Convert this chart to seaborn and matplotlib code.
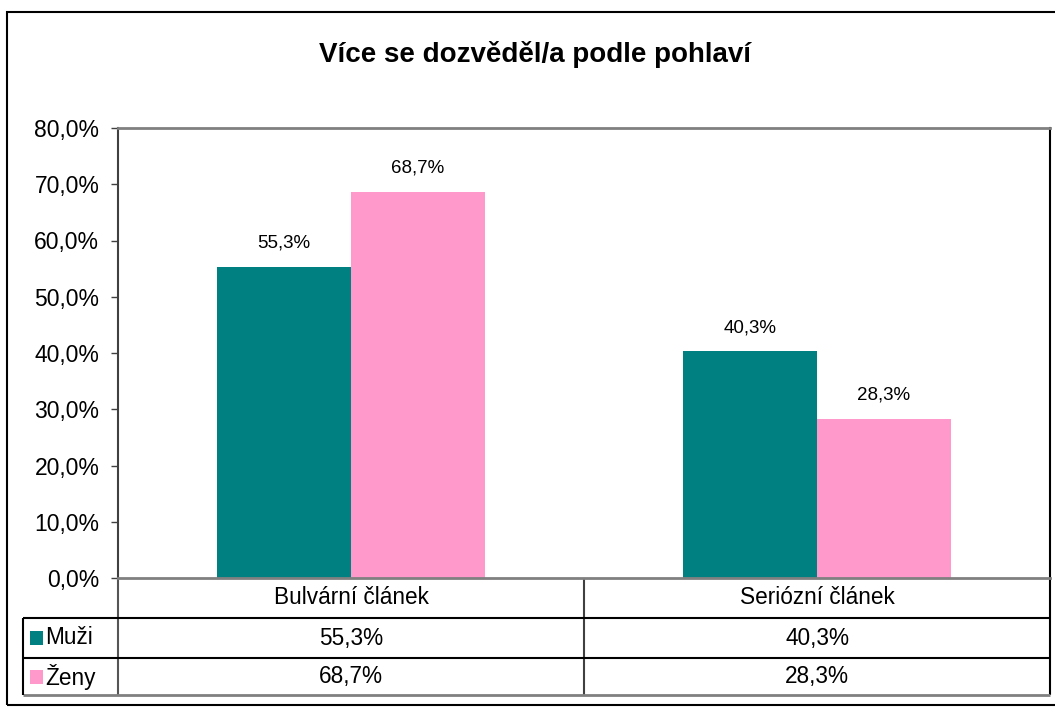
import pandas as pd
import matplotlib
matplotlib.use("Agg")
import matplotlib.pyplot as plt
import matplotlib.transforms as mtransforms
from matplotlib.patches import Rectangle
import seaborn as sns

# ---------------------------------------------------------
# Données
# ---------------------------------------------------------
categories = ["Bulvární článek", "Seriózní článek"]
series = ["Muži", "Ženy"]
muzi = [55.3, 40.3]
zeny = [68.7, 28.3]
yticks = [0, 10, 20, 30, 40, 50, 60, 70, 80]

teal = "#008080"
pink = "#FF99CC"


def cz(v, nd=1):
    # format tchèque : virgule décimale
    return f"{v:.{nd}f}%".replace(".", ",")


df = pd.DataFrame({
    "cat": categories * 2,
    "sex": [series[0]] * len(categories) + [series[1]] * len(categories),
    "val": muzi + zeny,
})

sns.set_style("white")
plt.rcParams["font.family"] = ["Liberation Sans", "DejaVu Sans"]
plt.rcParams["text.color"] = "black"
plt.rcParams["ytick.labelcolor"] = "black"

W, H = 1055, 707
fig = plt.figure(figsize=(W / 100, H / 100), dpi=100)
ax = fig.add_axes([118 / W, 1 - 578 / H, (1050 - 118) / W, (578 - 128) / H])

sns.barplot(data=df, x="cat", y="val", hue="sex", palette=[teal, pink],
            width=0.575, saturation=1, linewidth=0, legend=False, ax=ax)

ax.set_xlim(-0.5, 1.5)
ax.set_ylim(0, 80)
ax.set_yticks(yticks)
ax.set_yticklabels([cz(t) for t in yticks], fontsize=16.5, color="black")
ax.set_xticks([])
ax.set_xlabel("")
ax.set_ylabel("")
ax.tick_params(axis="y", direction="out", length=5, width=1, color="#404040",
               pad=8.5, left=True)

for side, col, lw in [("top", "#808080", 2), ("right", "black", 1.5),
                      ("left", "#404040", 1.5), ("bottom", "#808080", 2)]:
    ax.spines[side].set_visible(True)
    ax.spines[side].set_color(col)
    ax.spines[side].set_linewidth(lw)

# étiquettes des valeurs au-dessus des barres
for cont in ax.containers:
    ax.bar_label(cont, labels=[cz(b.get_height()) for b in cont],
                 padding=11, fontsize=13.5, color="black")

# ---------------------------------------------------------
# Table de données sous le graphique
# ---------------------------------------------------------
trans = mtransforms.blended_transform_factory(ax.transData, ax.transAxes)
row_h = 40 / 450
y1, y2, y3 = -row_h, -2 * row_h, -117 / 450
x_lab = -0.5 - 95 / 466


def line(xs, ys, col="black", lw=1.5):
    ax.plot(xs, ys, color=col, lw=lw, transform=trans, clip_on=False,
            solid_capstyle="butt")


line([-0.5, -0.5], [0, y3], "#555555")
line([0.5, 0.5], [0, y3], "#404040")
line([1.5, 1.5], [0, y3])
line([x_lab, 1.5], [y1, y1])
line([x_lab, 1.5], [y2, y2])
line([x_lab, 1.5], [y3, y3], "#808080", 2)
line([x_lab, x_lab], [y1, y3])

fs = 16.3
for i, c in enumerate(categories):
    ax.text(i, -row_h / 2, c, ha="center", va="center", fontsize=fs,
            transform=trans, clip_on=False)
    ax.text(i, (y1 + y2) / 2, cz(muzi[i]), ha="center", va="center",
            fontsize=fs, transform=trans, clip_on=False)
    ax.text(i, (y2 + y3) / 2, cz(zeny[i]), ha="center", va="center",
            fontsize=fs, transform=trans, clip_on=False)

for j, (name, col) in enumerate(zip(series, [teal, pink])):
    yc = (y1 + y2) / 2 if j == 0 else (y2 + y3) / 2
    ax.add_patch(Rectangle((x_lab + 7 / 466, yc - 7 / 450), 13 / 466, 14 / 450,
                           facecolor=col, edgecolor="none", transform=trans,
                           clip_on=False))
    ax.text(x_lab + 22 / 466, yc, name, ha="left", va="center", fontsize=fs,
            transform=trans, clip_on=False)

# titre et cadre extérieur
fig.text(535 / W, 1 - 55 / H, "Více se dozvěděl/a podle pohlaví",
         ha="center", va="center", fontsize=20, fontweight="bold")
fig.add_artist(Rectangle((7 / W, 1 - 705 / H), (1070 - 7) / W, (705 - 12) / H,
                         transform=fig.transFigure, fill=False,
                         edgecolor="black", lw=1.5))

fig.savefig("out.png", dpi=100)
